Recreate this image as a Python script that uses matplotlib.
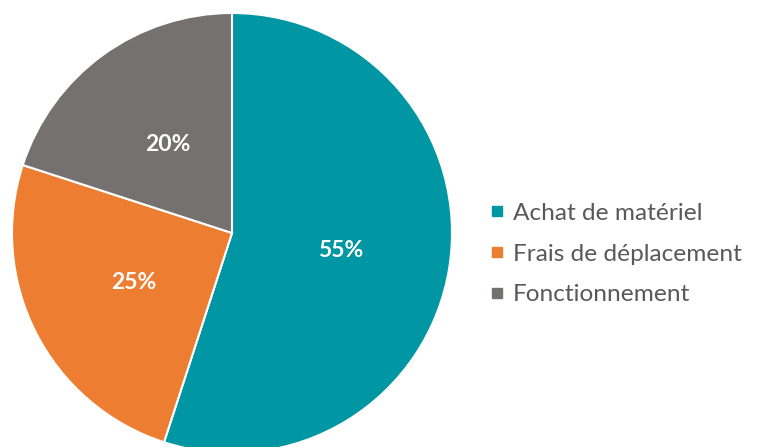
import matplotlib
matplotlib.use("Agg")
import matplotlib.pyplot as plt
from matplotlib.lines import Line2D

plt.rcParams["font.family"] = ["Lato", "DejaVu Sans"]

categories = ["Achat de matériel", "Frais de déplacement", "Fonctionnement"]
shares = [55, 25, 20]
colors = ["#0096A3", "#ED7D31", "#767171"]

W, H = 760, 447
fig = plt.figure(figsize=(W / 100, H / 100), dpi=100)
ax = fig.add_axes([0, 0, 1, 1])
ax.set_xlim(0, W)
ax.set_ylim(0, H)
ax.set_aspect("equal")
ax.axis("off")

cx, cy, r = 232, H - 233, 220
wedges, texts, autotexts = ax.pie(
    shares, colors=colors, startangle=90, counterclock=False,
    center=(cx, cy), radius=r, autopct="%d%%", pctdistance=0.5,
    wedgeprops=dict(edgecolor="white", linewidth=1.5),
    textprops=dict(color="white", fontsize=16.5, fontweight="bold"))
ax.set_xlim(0, W)
ax.set_ylim(0, H)

fs = 17.6
handles = [Line2D([], [], marker="s", linestyle="", markersize=7.2,
                  markerfacecolor=c, markeredgecolor=c) for c in colors]
leg = ax.legend(handles, categories, loc="center left",
                bbox_to_anchor=(491 / W, 1 - 254 / H), frameon=False,
                fontsize=fs, labelspacing=0.8, handlelength=0.48,
                handletextpad=0.4, borderpad=0, borderaxespad=0)
for t in leg.get_texts():
    t.set_color("#595959")

fig.savefig("out.png", dpi=100)
